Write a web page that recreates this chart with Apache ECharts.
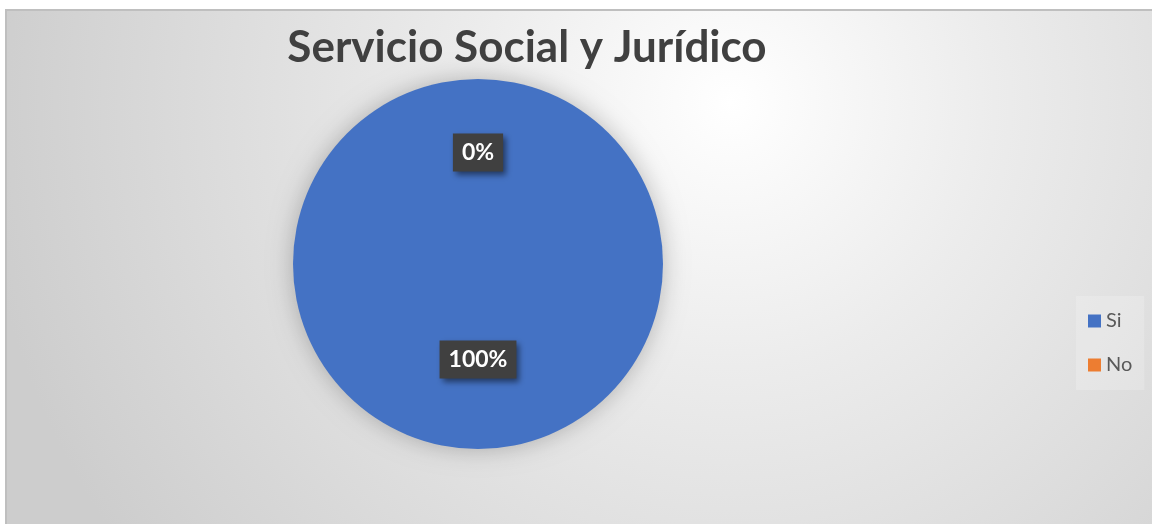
<!DOCTYPE html>
<html>
<head>
<meta charset="utf-8">
<script src="https://cdn.jsdelivr.net/npm/echarts@6/dist/echarts.min.js"></script>
<style>
html, body { margin: 0; padding: 0; background: #ffffff; }
#chart { width: 1152px; height: 524px; }
</style>
</head>
<body>
<div id="chart"></div>
<script>
// datos del grafico
var titulo     = 'Servicio Social y Jurídico';
var categorias = ['Si', 'No'];
var valores    = [1, 0];
var colores    = ['#4472C4', '#ED7D31'];

var chart = echarts.init(document.getElementById('chart'));

var datos = [];
for (var i = 0; i < categorias.length; i++) {
    datos.push({
        name: categorias[i],
        value: valores[i],
        itemStyle: { color: colores[i] },
        // la etiqueta del 0% queda un poco mas arriba
        label: i == 1 ? { offset: [0, -16] } : {}
    });
}

var option = {
    animation: false,
    graphic: [
        {
            type: 'rect',
            z: -10,
            shape: { x: 6, y: 10, width: 1150, height: 518 },
            style: {
                fill: {
                    type: 'radial', x: 0.63, y: 0.18, r: 1.45,
                    colorStops: [
                        { offset: 0, color: '#ffffff' },
                        { offset: 0.35, color: '#ececec' },
                        { offset: 1, color: '#cdcdcd' }
                    ]
                },
                stroke: '#bfbfbf',
                lineWidth: 2
            }
        },
        // pie de la figura del documento, cortado arriba
        {
            type: 'text',
            left: 42,
            top: -20,
            style: {
                text: 'Figura 14.',
                font: 'bold 20px "Liberation Serif"',
                fill: '#000000'
            }
        },
        {
            type: 'text',
            left: 169,
            top: -20,
            style: {
                text: 'Respuesta',
                font: 'bold 20px "Liberation Serif"',
                fill: '#000000'
            }
        }
    ],
    title: {
        text: titulo,
        left: 522,
        top: 21,
        textAlign: 'center',
        textStyle: {
            fontFamily: 'Lato',
            fontWeight: 'bold',
            fontSize: 44,
            color: '#404040'
        }
    },
    legend: {
        orient: 'vertical',
        left: 1076,
        top: 296,
        padding: [15, 12, 15, 12],
        itemGap: 24,
        itemWidth: 13,
        itemHeight: 13,
        icon: 'rect',
        backgroundColor: 'rgba(255,255,255,0.2)',
        textStyle: { fontFamily: 'Lato', fontSize: 20, color: '#595959' },
        data: categorias
    },
    series: [{
        type: 'pie',
        center: [478, 264],
        radius: [0, 185],
        startAngle: 90,
        clockwise: true,
        stillShowZeroSum: true,
        emphasis: { disabled: true },
        itemStyle: {
            borderWidth: 0,
            shadowBlur: 24,
            shadowColor: 'rgba(0,0,0,0.25)'
        },
        label: {
            show: true,
            position: 'inside',
            formatter: '{d}%',
            fontFamily: 'Lato',
            fontWeight: 'bold',
            fontSize: 23,
            color: '#ffffff',
            backgroundColor: '#404040',
            padding: [8, 9, 7, 9],
            shadowColor: 'rgba(0,0,0,0.5)',
            shadowBlur: 6,
            shadowOffsetX: 3,
            shadowOffsetY: 3
        },
        labelLine: { show: false },
        data: datos
    }]
};

chart.setOption(option);
</script>
</body>
</html>
